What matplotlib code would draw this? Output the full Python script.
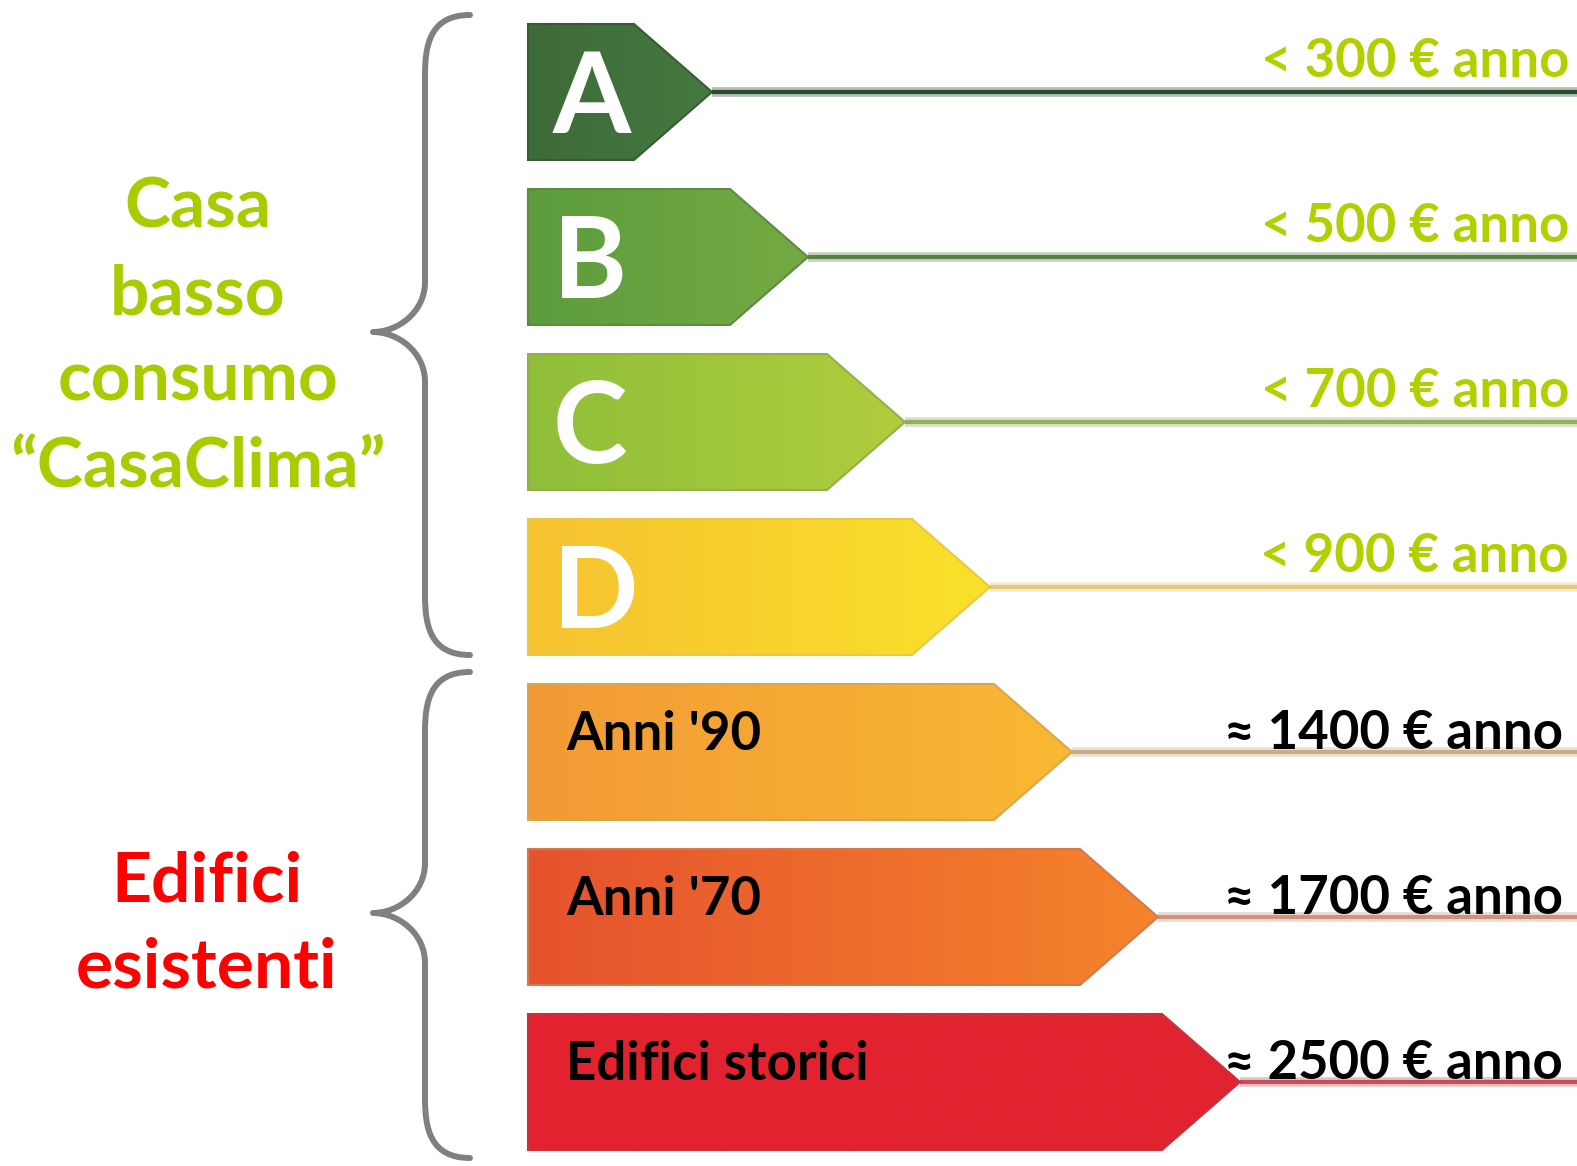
import numpy as np
import matplotlib
matplotlib.use('Agg')
import matplotlib.pyplot as plt
from matplotlib.patches import Polygon, PathPatch
from matplotlib.path import Path
from matplotlib.colors import LinearSegmentedColormap

# ---------------- data ----------------
categories = ['A', 'B', 'C', 'D', "Anni '90", "Anni '70", 'Edifici storici']
arrow_tip = [712, 808, 905, 990, 1072, 1158, 1240]          # arrow length (tip position)
cost_labels = ['< 300 € anno', '< 500 € anno', '< 700 € anno', '< 900 € anno',
               '≈ 1400 € anno', '≈ 1700 € anno', '≈ 2500 € anno']
group_labels = ['Casa\nbasso\nconsumo\n“CasaClima”', 'Edifici\nesistenti']

# ---------------- styles ----------------
grad_colors = [('#3d6a39', '#457a3f'),
               ('#5c9c3d', '#74aa43'),
               ('#8fbf3a', '#b0cd3d'),
               ('#f6c231', '#fae12a'),
               ('#f29a36', '#f9b933'),
               ('#e5522e', '#f5842b'),
               ('#e3232f', '#e12331')]
edge_colors = ['#3a5a36', '#5f8a44', '#93b04c', '#e8c848', '#d9a650', '#d27a4e', '#c8303a']
line_colors = ['#2e4a2e', '#5a7f45', '#94ae60', '#e2ca7e', '#c8ae88', '#c99480', '#c0505a']
cost_colors = ['#b0d000'] * 4 + ['#000000'] * 3
green_txt = '#a8cc00'
red_txt = '#ff0000'
FONT = ['Lato', 'DejaVu Sans']

W, H = 1577, 1166
fig = plt.figure(figsize=(W / 100, H / 100), dpi=100)
ax = fig.add_axes([0, 0, 1, 1])
ax.axis('off')

x0 = 528
y_first, y_step = 92, 165
half_h = 68
notch = 78

grad = np.linspace(0, 1, 256).reshape(1, -1)
for i, cat in enumerate(categories):
    yc = y_first + i * y_step
    top, bot = yc - half_h, yc + half_h
    tip = arrow_tip[i]
    body = tip - notch
    # connecting line
    ax.plot([tip, W], [yc, yc], color=line_colors[i], lw=7, alpha=0.35,
            solid_capstyle='butt', zorder=1)
    ax.plot([tip, W], [yc, yc], color=line_colors[i], lw=3,
            solid_capstyle='butt', zorder=1)
    poly = Polygon([(x0, top), (body, top), (tip, yc), (body, bot), (x0, bot)],
                   closed=True, facecolor='none', edgecolor=edge_colors[i],
                   lw=1.5, zorder=3)
    ax.add_patch(poly)
    cmap = LinearSegmentedColormap.from_list('g%d' % i, list(grad_colors[i]))
    im = ax.imshow(grad, extent=[x0, tip, bot, top], cmap=cmap, aspect='auto',
                   zorder=2, interpolation='bilinear')
    im.set_clip_path(poly)
    # label inside arrow
    if len(cat) == 1:
        ax.text(553, yc + 41, cat, color='white', fontsize=81, fontweight='bold',
                family=FONT, ha='left', va='baseline', zorder=4)
    else:
        ax.text(566, yc - 2, cat, color='black', fontsize=38, fontweight='bold',
                family=FONT, ha='left', va='baseline', zorder=4)
    # cost label
    if i < 4:
        ax.text(1569, yc - 15, cost_labels[i], color=cost_colors[i], fontsize=38,
                fontweight='bold', family=FONT, ha='right', va='baseline', zorder=4)
    else:
        ax.text(1563, yc - 3, cost_labels[i], color=cost_colors[i], fontsize=38,
                fontweight='bold', family=FONT, ha='right', va='baseline', zorder=4)

# ---------------- braces ----------------
def brace(y_top, y_tip, y_bot, x_end=470, x_v=425, x_tip=373):
    verts = [(x_end, y_top),
             (x_v + 5, y_top), (x_v, y_top + 30), (x_v, y_top + 60),
             (x_v, y_tip - 50),
             (x_v, y_tip - 20), (x_tip + 25, y_tip), (x_tip, y_tip),
             (x_tip + 25, y_tip), (x_v, y_tip + 20), (x_v, y_tip + 50),
             (x_v, y_bot - 60),
             (x_v, y_bot - 30), (x_v + 5, y_bot), (x_end, y_bot)]
    codes = [Path.MOVETO,
             Path.CURVE4, Path.CURVE4, Path.CURVE4,
             Path.LINETO,
             Path.CURVE4, Path.CURVE4, Path.CURVE4,
             Path.CURVE4, Path.CURVE4, Path.CURVE4,
             Path.LINETO,
             Path.CURVE4, Path.CURVE4, Path.CURVE4]
    ax.add_patch(PathPatch(Path(verts, codes), facecolor='none', edgecolor='#808080',
                           lw=4.3, capstyle='round', joinstyle='round', zorder=2))

brace(15, 332, 655)
brace(672, 913, 1158)

# ---------------- group labels ----------------
ax.text(198, 487, group_labels[0], color=green_txt, fontsize=50, fontweight='bold',
        family=FONT, ha='center', va='baseline', multialignment='center',
        linespacing=1.46, zorder=4)
ax.text(207, 987, group_labels[1], color=red_txt, fontsize=50, fontweight='bold',
        family=FONT, ha='center', va='baseline', multialignment='center',
        linespacing=1.44, zorder=4)

ax.set_xlim(0, W)
ax.set_ylim(H, 0)
fig.savefig('out.png', dpi=100)
